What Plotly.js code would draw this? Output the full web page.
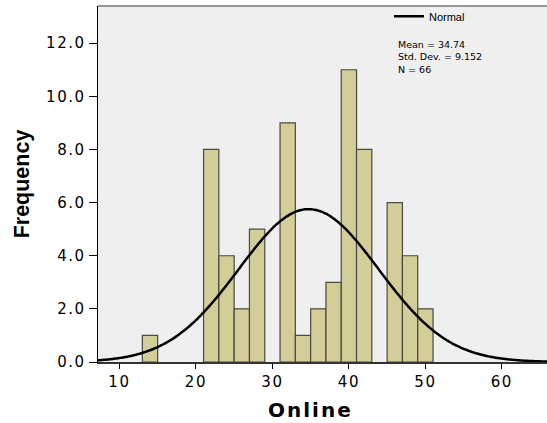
<!DOCTYPE html>
<html>
<head>
<meta charset="utf-8">
<script src="https://cdn.plot.ly/plotly-3.0.1.min.js"></script>
<style>
html,body{margin:0;padding:0;background:#fff;}
#chart{width:547px;height:423px;}
#chart .xtick text, #chart .ytick text{letter-spacing:1.5px;}
#chart .annotation[data-index="1"] text{letter-spacing:2px;}
</style>
</head>
<body>
<div id="chart"></div>
<script>
// Histogram bins (centers, width 2) and frequencies
const binCenters = [14, 22, 24, 26, 28, 32, 34, 36, 38, 40, 42, 46, 48, 50];
const frequencies = [1, 8, 4, 2, 5, 9, 1, 2, 3, 11, 8, 6, 4, 2];
const binWidth = 2;
// Fitted normal parameters as reported
const meanVal = 34.74;
const sdVal = 9.152;
const nVal = 66;
const yTickVals = [0, 2, 4, 6, 8, 10, 12];
const yTickText = ["0.0", "2.0", "4.0", "6.0", "8.0", "10.0", "12.0"];
const xTickVals = [10, 20, 30, 40, 50, 60];
const statLines = ['Mean = ' + meanVal.toFixed(2), 'Std. Dev. = ' + sdVal.toFixed(3), 'N = ' + nVal];
const xTitle = 'Online';
const yTitle = 'Frequency';

// Normal curve scaled to counts (the fit line SPSS draws)
const curveX = [], curveY = [];
for (let x = 5; x <= 68; x += 0.25) {
  curveX.push(x);
  curveY.push(nVal * binWidth / (sdVal * Math.sqrt(2 * Math.PI)) *
    Math.exp(-0.5 * Math.pow((x - meanVal) / sdVal, 2)));
}

const traces = [
  {
    type: 'bar', x: binCenters, y: frequencies, width: binWidth,
    marker: {color: '#d3ce97', line: {color: '#4a4a40', width: 1.2}},
    showlegend: false, hoverinfo: 'x+y'
  },
  {
    type: 'scatter', mode: 'lines', x: curveX, y: curveY, name: 'Normal',
    line: {color: '#000', width: 2.5, shape: 'spline'}, showlegend: true
  }
];

const annotations = [
  {
    xref: 'paper', yref: 'paper', x: 0.663, y: 0.912, xanchor: 'left', yanchor: 'top',
    align: 'left', showarrow: false, text: statLines.join('<br>'),
    font: {size: 9.5, family: 'DejaVu Sans, sans-serif', color: '#000'}
  },
  {
    xref: 'paper', yref: 'paper', x: 0.473, y: -0.134, xanchor: 'center', yanchor: 'middle',
    showarrow: false, text: '<b>' + xTitle + '</b>',
    font: {size: 20, family: 'DejaVu Sans, sans-serif', color: '#000'}
  }
];

const layout = {
  width: 547, height: 423,
  margin: {l: 98, r: 0, t: 6, b: 61},
  paper_bgcolor: '#ffffff',
  plot_bgcolor: '#efefef',
  bargap: 0,
  font: {family: 'DejaVu Sans, sans-serif', color: '#000'},
  xaxis: {
    range: [7.2, 65.9], tickvals: xTickVals, ticks: 'outside', ticklen: 5,
    tickcolor: '#000', showgrid: false, zeroline: false,
    showline: true, linecolor: '#333', linewidth: 1.5,
    tickfont: {size: 15, family: 'DejaVu Sans, sans-serif'}
  },
  yaxis: {
    range: [0, 13.4], tickvals: yTickVals, ticktext: yTickText, ticks: 'outside', ticklen: 8,
    tickcolor: '#000', showgrid: false, zeroline: false,
    showline: true, linecolor: '#000', linewidth: 1.5,
    tickfont: {size: 15, family: 'DejaVu Sans, sans-serif'},
    title: {text: '<b>' + yTitle + '</b>', font: {size: 21.5, family: 'Liberation Sans Narrow, Arial Narrow, sans-serif'}, standoff: 16}
  },
  shapes: [
    {type: 'line', xref: 'paper', yref: 'paper', x0: 0, x1: 1, y0: 1, y1: 1, line: {color: '#777', width: 1.5}}
  ],
  legend: {
    x: 0.648, y: 1.012, xanchor: 'left', yanchor: 'top', bgcolor: 'rgba(0,0,0,0)',
    font: {size: 11, family: 'Liberation Sans, Arial, sans-serif'}, itemwidth: 30, tracegroupgap: 0
  },
  annotations: annotations
};

Plotly.newPlot('chart', traces, layout, {displayModeBar: false, staticPlot: true});
</script>
</body>
</html>
